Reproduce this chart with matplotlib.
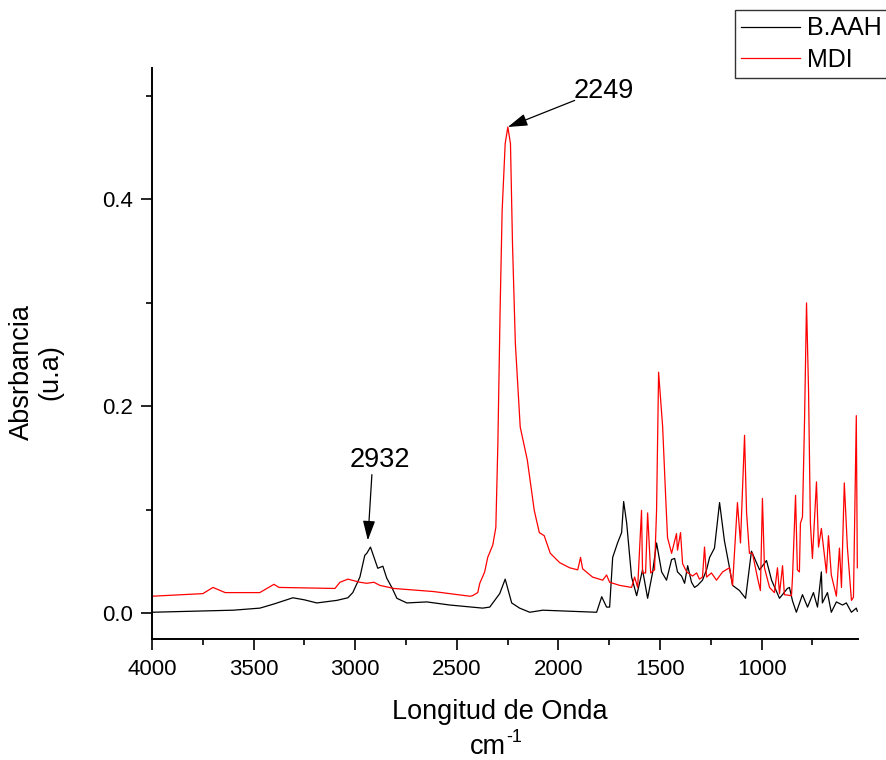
import matplotlib
matplotlib.use("Agg")
import matplotlib.pyplot as plt
from matplotlib.ticker import MultipleLocator, FormatStrFormatter

plt.rcParams["font.family"] = ["Liberation Sans", "DejaVu Sans"]
plt.rcParams["mathtext.default"] = "regular"

# B.AAH spectrum (wavenumber cm-1, absorbance)
baah_wn = [4000, 3800, 3600, 3469, 3400, 3307, 3250, 3189, 3090, 3036, 3012, 2977,
           2953, 2943, 2925, 2889, 2864, 2845, 2820, 2795, 2746, 2648, 2535, 2373,
           2338, 2289, 2262, 2230, 2191, 2141, 2077, 1945, 1812, 1787, 1763, 1748,
           1733, 1709, 1689, 1679, 1664, 1640, 1615, 1586, 1561, 1537, 1517, 1492,
           1468, 1443, 1428, 1414, 1394, 1379, 1364, 1345, 1330, 1315, 1291, 1271,
           1256, 1232, 1207, 1183, 1158, 1143, 1109, 1079, 1050, 1010, 976, 951,
           912, 873, 863, 848, 829, 799, 774, 745, 725, 706, 701, 676, 657, 632,
           602, 583, 558, 534, 529]
baah_abs = [0.001, 0.002, 0.003, 0.005, 0.009, 0.015, 0.013, 0.010, 0.0125, 0.015, 0.020, 0.035,
            0.056, 0.058, 0.064, 0.0435, 0.0455, 0.034, 0.025, 0.0145, 0.010, 0.011, 0.008, 0.005,
            0.006, 0.019, 0.033, 0.010, 0.005, 0.001, 0.003, 0.002, 0.001, 0.016, 0.006, 0.006,
            0.054, 0.068, 0.078, 0.108, 0.087, 0.035, 0.017, 0.042, 0.0145, 0.039, 0.068, 0.040,
            0.032, 0.052, 0.053, 0.040, 0.036, 0.029, 0.046, 0.030, 0.025, 0.027, 0.032, 0.042,
            0.054, 0.063, 0.107, 0.070, 0.044, 0.027, 0.022, 0.0145, 0.060, 0.042, 0.051, 0.032,
            0.0145, 0.024, 0.025, 0.012, 0.001, 0.018, 0.006, 0.020, 0.006, 0.040, 0.010, 0.020, 0.001, 0.011,
            0.008, 0.010, 0.001, 0.005, 0.002]

# MDI spectrum
mdi_wn = [4000, 3750, 3700, 3640, 3470, 3400, 3375, 3100, 3075, 3036, 2977, 2943,
          2908, 2879, 2810, 2614, 2436, 2423, 2397, 2387, 2363, 2348, 2323, 2308,
          2298, 2287, 2277, 2262, 2249, 2236, 2226, 2212, 2188, 2153, 2119, 2094,
          2070, 2040, 1994, 1945, 1905, 1891, 1881, 1832, 1782, 1763, 1748, 1699,
          1640, 1625, 1610, 1591, 1586, 1571, 1561, 1546, 1527, 1517, 1507, 1487,
          1473, 1463, 1443, 1419, 1414, 1399, 1389, 1369, 1340, 1320, 1306, 1291,
          1281, 1271, 1247, 1222, 1192, 1158, 1143, 1119, 1104, 1084, 1074, 1060,
          1045, 1020, 1006, 996, 986, 961, 937, 922, 912, 897, 888, 853, 848, 833,
          824, 814, 809, 799, 789, 779, 769, 760, 750, 730, 720, 706, 681, 671,
          657, 632, 617, 607, 593, 578, 558, 548, 534, 529]
mdi_abs = [0.0165, 0.019, 0.025, 0.020, 0.020, 0.028, 0.025, 0.024, 0.030, 0.033, 0.030, 0.029,
           0.030, 0.027, 0.024, 0.021, 0.0165, 0.017, 0.020, 0.029, 0.040, 0.054, 0.066, 0.083,
           0.164, 0.293, 0.389, 0.454, 0.470, 0.454, 0.357, 0.261, 0.180, 0.148, 0.0995, 0.078,
           0.075, 0.058, 0.049, 0.044, 0.042, 0.054, 0.043, 0.035, 0.032, 0.037, 0.030, 0.027,
           0.025, 0.035, 0.025, 0.0995, 0.039, 0.039, 0.097, 0.039, 0.042, 0.0995, 0.233, 0.180,
           0.116, 0.073, 0.058, 0.077, 0.061, 0.078, 0.048, 0.040, 0.036, 0.039, 0.033, 0.035,
           0.064, 0.035, 0.039, 0.032, 0.040, 0.044, 0.027, 0.107, 0.068, 0.172, 0.097, 0.058,
           0.058, 0.034, 0.022, 0.111, 0.044, 0.025, 0.020, 0.044, 0.019, 0.046, 0.018, 0.017, 0.035, 0.114,
           0.042, 0.040, 0.087, 0.093, 0.184, 0.300, 0.215, 0.087, 0.053, 0.127, 0.064, 0.082, 0.039, 0.075,
           0.037, 0.0165, 0.063, 0.025, 0.126, 0.064, 0.0125, 0.0155, 0.191, 0.044]

fig = plt.figure(figsize=(8.87, 7.60), dpi=100)
ax = fig.add_axes([0.1714, 0.159, 0.7956, 0.7515])

ax.plot(baah_wn, baah_abs, color="black", lw=0.9, label="B.AAH")
ax.plot(mdi_wn, mdi_abs, color="red", lw=0.9, label="MDI")

ax.set_xlim(4000, 527)
ax.set_ylim(-0.025, 0.527)

ax.spines["top"].set_visible(False)
ax.spines["right"].set_visible(False)
for s in ("left", "bottom"):
    ax.spines[s].set_linewidth(1.4)

ax.xaxis.set_major_locator(MultipleLocator(500))
ax.xaxis.set_minor_locator(MultipleLocator(250))
ax.yaxis.set_major_locator(MultipleLocator(0.2))
ax.yaxis.set_minor_locator(MultipleLocator(0.1))
ax.yaxis.set_major_formatter(FormatStrFormatter("%.1f"))
ax.tick_params(which="major", direction="out", length=8, width=1.2, labelsize=16, pad=6)
ax.tick_params(which="minor", direction="out", length=4.5, width=1.2)

# annotations
ax.annotate("", xy=(2249, 0.470), xytext=(1920, 0.4957),
            arrowprops=dict(arrowstyle="-|>,head_length=0.8,head_width=0.25",
                            color="black", lw=0.9, mutation_scale=15, shrinkA=0, shrinkB=0))
ax.text(1777, 0.505, "2249", fontsize=19.5, ha="center", va="center")
ax.annotate("", xy=(2938, 0.0705), xytext=(2918, 0.134),
            arrowprops=dict(arrowstyle="-|>,head_length=0.8,head_width=0.25",
                            color="black", lw=0.9, mutation_scale=15, shrinkA=0, shrinkB=0))
ax.text(2879, 0.148, "2932", fontsize=19.5, ha="center", va="center")

fig.text(500 / 887, 1 - 712 / 760, "Longitud de Onda", fontsize=19.5, ha="center", va="center")
fig.text(506 / 887, 1 - 747 / 760, "cm", fontsize=19.5, ha="right", va="center")
fig.text(506 / 887, 1 - 737 / 760, "-1", fontsize=13, ha="left", va="center")
fig.text(36 / 887, 1 - 372 / 760, "Absrbancia\n(u.a)", fontsize=19.5, ha="center",
         va="center", rotation=90, multialignment="center", linespacing=1.1)

leg = fig.legend(loc="upper left", bbox_to_anchor=(735 / 887, 1 - 10 / 760),
                 fontsize=18, frameon=True, fancybox=False, borderpad=0.25,
                 labelspacing=0.3, handlelength=2.35, handletextpad=0.3,
                 borderaxespad=0)
leg.get_frame().set_edgecolor("black")
leg.get_frame().set_linewidth(1.0)

fig.savefig("out.png", dpi=100)
